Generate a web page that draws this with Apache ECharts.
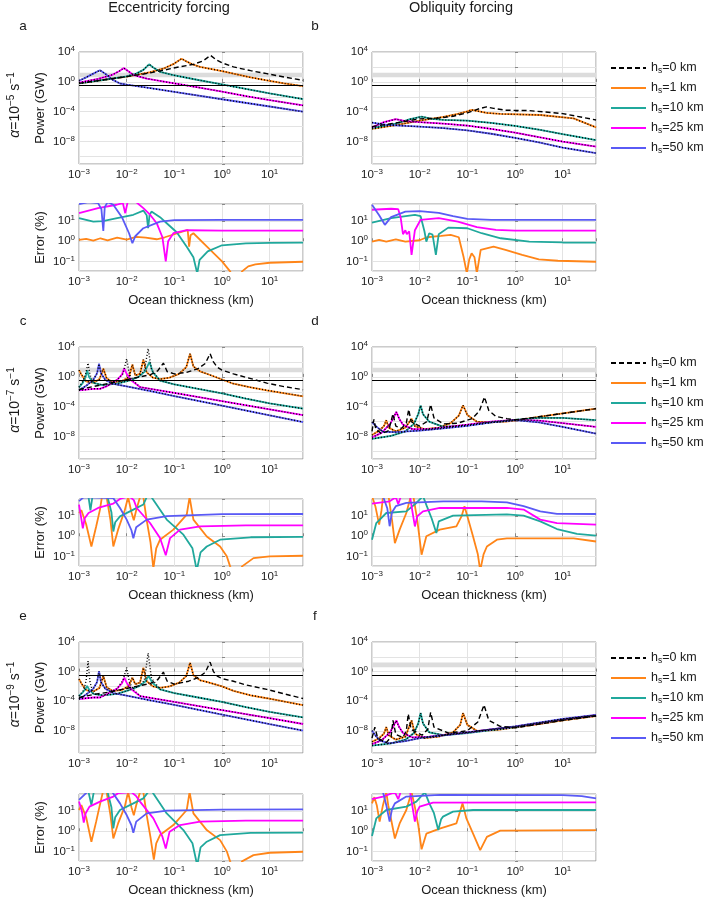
<!DOCTYPE html>
<html>
<head>
<meta charset="utf-8">
<script src="https://cdn.jsdelivr.net/npm/echarts@6/dist/echarts.min.js"></script>
<style>
html,body{margin:0;padding:0;background:#fff}
#chart{width:708px;height:901px}
</style>
</head>
<body>
<div id="chart"></div>
<script>
// every curve is [log10(ocean thickness / km), log10(value)]
// power in GW, error in %

// ---- a: eccentricity, alpha = 1e-5 ----
const a_h0  = [[-3,-0.2],[-2.5,0.25],[-2,0.7],[-1.5,1.2],[-1.2,1.6],[-0.9,2.0],[-0.6,2.35],[-0.4,2.8],[-0.24,3.55],[-0.12,2.95],[0,2.55],[0.24,2.0],[0.6,1.5],[0.94,1.1],[1.3,0.65],[1.7,0.2]];
const a_h1  = [[-3,-0.2],[-2.5,0.25],[-2,0.7],[-1.5,1.3],[-1.2,1.85],[-1.0,2.45],[-0.85,3.1],[-0.75,2.75],[-0.6,2.3],[-0.46,2.0],[0,1.45],[0.24,1.1],[0.6,0.6],[0.94,0.2],[1.3,-0.2],[1.7,-0.58]];
const a_h10 = [[-3,-0.2],[-2.5,0.25],[-2,0.75],[-1.8,1.1],[-1.65,1.6],[-1.53,2.35],[-1.45,1.95],[-1.3,1.35],[-1.02,0.9],[-0.5,0.25],[0,-0.35],[0.5,-0.95],[1,-1.55],[1.7,-2.3]];
const a_h25 = [[-3,-0.1],[-2.6,0.4],[-2.3,0.95],[-2.15,1.45],[-2.06,1.85],[-1.98,1.5],[-1.85,0.9],[-1.58,0.44],[-1,-0.2],[-0.5,-0.75],[0,-1.3],[0.5,-1.9],[1,-2.45],[1.7,-3.16]];
const a_h50 = [[-3,0.15],[-2.85,0.6],[-2.7,1.1],[-2.56,1.55],[-2.45,1.1],[-2.3,0.3],[-2.14,-0.22],[-2,-0.36],[-1.5,-0.85],[-1,-1.34],[0,-2.33],[1,-3.3],[1.7,-4.0]];
const err_a_h1  = [[-3,0.07],[-2.85,0.12],[-2.7,0.03],[-2.55,0.15],[-2.4,0.05],[-2.2,0.18],[-2,0.08],[-1.8,0.22],[-1.6,0.18],[-1.37,0.1],[-1.2,0.2],[-1.0,0.35],[-0.8,0.5],[-0.72,0.57],[-0.69,-0.27],[-0.66,0.3],[-0.6,0.4],[-0.3,-0.3],[0,-1.0],[0.17,-1.5],[0.25,-1.9],[0.35,-1.9],[0.42,-1.5],[0.55,-1.25],[0.7,-1.15],[1,-1.07],[1.7,-1.02]];
const err_a_h10 = [[-3,1.15],[-2.7,0.98],[-2.5,1.0],[-2.2,1.15],[-1.86,1.32],[-1.65,1.53],[-1.58,1.3],[-1.55,0.65],[-1.52,1.3],[-1.48,1.48],[-1.3,1.2],[-1.16,0.9],[-0.95,0.45],[-0.74,-0.27],[-0.6,-0.8],[-0.52,-1.6],[-0.47,-0.93],[-0.3,-0.5],[0,-0.2],[0.5,-0.1],[1,-0.08],[1.7,-0.07]];
const err_a_h25 = [[-3,1.4],[-2.6,1.65],[-2.21,1.82],[-2.08,1.9],[-2.03,1.4],[-1.98,1.95],[-1.8,1.95],[-1.65,1.65],[-1.5,1.3],[-1.37,0.9],[-1.25,0.2],[-1.18,-1.0],[-1.13,0.0],[-1.02,0.4],[-0.74,0.55],[0,0.53],[1.7,0.53]];
const err_a_h50 = [[-3,1.85],[-2.8,1.95],[-2.6,1.9],[-2.53,1.6],[-2.49,0.52],[-2.46,1.7],[-2.4,1.95],[-2.28,1.82],[-2.1,1.2],[-1.95,0.4],[-1.88,-0.1],[-1.82,0.25],[-1.65,0.65],[-1.3,0.98],[-1,1.05],[0,1.07],[1.7,1.07]];

// ---- b: obliquity, alpha = 1e-5 ----
const b_h0  = [[-3,-6.0],[-2.5,-5.5],[-2,-4.95],[-1.6,-4.85],[-1.3,-4.6],[-1,-4.15],[-0.75,-3.6],[-0.6,-3.35],[-0.45,-3.55],[-0.2,-3.8],[0.3,-3.85],[1,-4.25],[1.7,-5.1]];
const b_h1  = [[-3,-6.3],[-2.5,-5.8],[-2,-5.2],[-1.5,-4.7],[-1.2,-4.3],[-1,-3.95],[-0.91,-3.75],[-0.8,-3.9],[-0.6,-4.15],[-0.3,-4.3],[0.53,-4.44],[1.23,-4.9],[1.7,-6.1]];
const b_h10 = [[-3,-6.2],[-2.5,-5.6],[-2.2,-5.0],[-1.96,-4.65],[-1.75,-4.95],[-1.5,-5.1],[-1,-5.2],[-0.5,-5.5],[0,-5.9],[0.5,-6.4],[1,-7.0],[1.7,-7.8]];
const b_h25 = [[-3,-6.1],[-2.75,-5.4],[-2.5,-5.0],[-2.3,-5.25],[-2,-5.4],[-1.5,-5.6],[-1,-5.85],[-0.5,-6.3],[0,-6.8],[0.5,-7.4],[1,-8.0],[1.7,-8.67]];
const b_h50 = [[-3,-5.45],[-2.7,-5.75],[-2.3,-5.9],[-2,-6.0],[-1.5,-6.2],[-1,-6.5],[-0.5,-6.95],[0,-7.5],[0.5,-8.1],[1,-8.8],[1.7,-9.55]];
const err_b_h1  = [[-3,-0.02],[-2.85,0.07],[-2.7,-0.02],[-2.5,0.1],[-2.3,-0.02],[-2,0.05],[-1.85,0.2],[-1.55,0.27],[-1.35,0.32],[-1.18,0.2],[-1.08,-0.77],[-1.01,-1.6],[-0.96,-0.9],[-0.91,-0.6],[-0.85,-0.8],[-0.8,-1.6],[-0.72,-0.43],[-0.45,-0.27],[-0.2,-0.43],[0.15,-0.68],[0.5,-0.9],[0.9,-0.97],[1.7,-1.02]];
const err_b_h10 = [[-3,0.93],[-2.6,1.15],[-2.1,1.32],[-1.98,1.25],[-1.9,0.5],[-1.86,-0.02],[-1.8,0.4],[-1.73,0.33],[-1.66,-0.68],[-1.6,0.35],[-1.4,0.68],[-1,0.65],[-0.7,0.4],[-0.3,0.15],[0.3,-0.02],[1,-0.06],[1.7,-0.07]];
const err_b_h25 = [[-3,1.57],[-2.6,1.62],[-2.45,1.6],[-2.4,1.2],[-2.35,0.35],[-2.3,0.55],[-2.27,0.35],[-2.22,0.5],[-2.17,-0.68],[-2.1,0.55],[-1.98,1.07],[-1.6,1.15],[-1.2,0.98],[-0.8,0.7],[-0.4,0.57],[0,0.53],[1.7,0.53]];
const err_b_h50 = [[-3,1.82],[-2.85,1.3],[-2.73,0.82],[-2.6,1.2],[-2.3,1.48],[-2,1.5],[-1.6,1.42],[-1.3,1.25],[-1,1.12],[-0.5,1.07],[1.7,1.07]];

// ---- c: eccentricity, alpha = 1e-7 ----
const c_h0  = [[-3,-1.7],[-2.7,-1.3],[-2.4,-0.9],[-2.1,-0.5],[-1.8,-0.1],[-1.5,0.3],[-1.35,0.8],[-1.23,1.85],[-1.15,0.7],[-1.0,0.4],[-0.75,0.6],[-0.5,1.1],[-0.35,1.8],[-0.25,3.1],[-0.18,2.0],[-0.1,1.3],[0,0.9],[0.24,0.4],[0.5,-0.05],[0.94,-0.83],[1.3,-1.3],[1.7,-1.72]];
const c_h1  = [[-3,0.9],[-2.95,0.3],[-2.85,-0.6],[-2.7,-0.8],[-2.57,-0.3],[-2.49,1.1],[-2.42,-0.2],[-2.3,-0.7],[-2.1,-0.6],[-1.95,0.0],[-1.88,1.65],[-1.82,0.2],[-1.72,0.4],[-1.65,2.3],[-1.58,0.6],[-1.45,-0.1],[-1.3,-0.3],[-1.1,-0.1],[-0.9,0.4],[-0.75,1.3],[-0.67,3.1],[-0.6,1.4],[-0.45,0.7],[-0.32,0.42],[0,-0.35],[0.24,-0.92],[0.6,-1.4],[0.94,-1.8],[1.7,-2.6]];
const c_h10 = [[-3,-1.4],[-2.92,-0.8],[-2.86,0.0],[-2.83,0.87],[-2.79,0.0],[-2.7,-0.8],[-2.5,-1.1],[-2.2,-0.9],[-1.95,-0.5],[-1.75,0.0],[-1.62,0.7],[-1.52,2.0],[-1.45,0.6],[-1.3,-0.5],[-1,-1.0],[-0.5,-1.6],[0,-2.2],[0.5,-2.9],[1,-3.55],[1.7,-4.26]];
const c_h10_apx = [[-3,-1.4],[-2.92,-0.6],[-2.86,0.4],[-2.81,1.85],[-2.77,0.3],[-2.7,-0.8],[-2.5,-1.1],[-2.2,-0.9],[-1.95,-0.5],[-1.75,0.0],[-1.63,0.8],[-1.55,3.77],[-1.48,1.0],[-1.3,-0.5],[-1,-1.0],[-0.5,-1.6],[0,-2.2],[0.5,-2.9],[1,-3.55],[1.7,-4.26]];
const c_h25 = [[-3,-1.8],[-2.7,-1.6],[-2.56,-1.6],[-2.4,-1.2],[-2.2,-0.4],[-2.1,0.3],[-2.05,1.15],[-2.0,0.4],[-1.9,-0.5],[-1.72,-1.36],[-1,-2.15],[0,-3.25],[1,-4.35],[1.7,-5.12]];
const c_h25_apx = [[-3,-1.8],[-2.7,-1.6],[-2.56,-1.6],[-2.4,-1.2],[-2.2,-0.4],[-2.08,0.4],[-2.0,2.4],[-1.94,0.3],[-1.85,-0.6],[-1.72,-1.36],[-1,-2.15],[0,-3.25],[1,-4.35],[1.7,-5.12]];
const c_h50 = [[-3,-1.8],[-2.85,-1.2],[-2.7,-0.4],[-2.62,0.5],[-2.58,1.75],[-2.54,0.5],[-2.45,-0.4],[-2.28,-0.95],[-2,-1.28],[-1.5,-1.9],[-1,-2.57],[0,-3.86],[1,-5.15],[1.7,-6.05]];
const err_c_h1  = [[-3,1.16],[-2.95,1.3],[-2.85,0.6],[-2.74,-0.51],[-2.64,0.49],[-2.56,1.33],[-2.52,1.95],[-2.42,1.95],[-2.34,0.8],[-2.28,-0.51],[-2.18,0.33],[-2.04,1.3],[-1.97,1.95],[-1.9,1.2],[-1.85,0.8],[-1.8,1.3],[-1.72,1.95],[-1.65,1.95],[-1.58,0.8],[-1.5,-0.3],[-1.44,-1.6],[-1.38,-0.6],[-1.3,-0.17],[-1.02,0.33],[-0.74,1.08],[-0.68,1.95],[-0.6,0.83],[-0.32,-0.01],[-0.04,-0.51],[0.1,-1.0],[0.17,-1.5],[0.25,-1.9],[0.35,-1.9],[0.42,-1.5],[0.66,-1.09],[1,-1.0],[1.7,-0.97]];
const err_c_h10 = [[-3,2.0],[-2.8,1.95],[-2.76,1.29],[-2.72,1.95],[-2.4,1.95],[-2.32,1.2],[-2.28,0.24],[-2.24,0.7],[-2.14,0.99],[-1.86,1.33],[-1.65,1.58],[-1.58,1.95],[-1.48,1.95],[-1.16,0.83],[-0.81,0.08],[-0.62,-0.6],[-0.53,-1.7],[-0.45,-0.8],[-0.32,-0.51],[-0.04,-0.17],[0.6,-0.05],[1.7,-0.03]];
const err_c_h25 = [[-3,1.58],[-2.96,1.0],[-2.92,0.4],[-2.88,0.9],[-2.8,1.16],[-2.6,1.41],[-2.28,1.63],[-2.14,1.86],[-1.95,2.0],[-1.85,1.8],[-1.79,1.41],[-1.51,0.66],[-1.3,-0.09],[-1.18,-0.95],[-1.09,-0.09],[-0.88,0.33],[-0.46,0.49],[0.5,0.54],[1.7,0.54]];
const err_c_h50 = [[-3,1.75],[-2.9,1.95],[-2.28,1.9],[-2.14,1.41],[-2.0,0.83],[-1.9,0.3],[-1.86,-0.1],[-1.8,0.45],[-1.58,0.83],[-1.16,1.0],[0,1.1],[1.7,1.11]];

// ---- d: obliquity, alpha = 1e-7 ----
const d_h0  = [[-3,-7.3],[-2.96,-5.7],[-2.92,-7.0],[-2.8,-7.6],[-2.65,-7.2],[-2.56,-4.95],[-2.5,-6.6],[-2.38,-6.9],[-2.28,-6.2],[-2.23,-4.35],[-2.18,-6.0],[-2.0,-6.6],[-1.85,-6.0],[-1.77,-3.7],[-1.7,-5.5],[-1.5,-6.3],[-1.2,-6.2],[-0.9,-5.6],[-0.75,-4.6],[-0.64,-2.7],[-0.55,-4.5],[-0.4,-5.3],[-0.17,-5.6],[0,-5.75],[0.5,-5.35],[1,-4.9],[1.7,-4.26]];
const d_h1  = [[-3,-7.8],[-2.85,-7.2],[-2.75,-6.6],[-2.7,-5.8],[-2.65,-6.8],[-2.5,-7.3],[-2.3,-6.8],[-2.17,-5.6],[-2.1,-6.6],[-1.9,-7.0],[-1.6,-6.8],[-1.35,-6.2],[-1.18,-5.2],[-1.09,-3.8],[-1.0,-5.1],[-0.8,-6.0],[-0.5,-6.1],[-0.2,-6.0],[0,-5.85],[0.5,-5.35],[1,-4.9],[1.7,-4.26]];
const d_h10 = [[-3,-8.3],[-2.6,-7.9],[-2.3,-7.3],[-2.12,-6.3],[-2.03,-5.0],[-1.98,-3.82],[-1.93,-5.0],[-1.8,-6.0],[-1.5,-6.7],[-1.0,-6.5],[-0.5,-6.1],[0,-5.75],[0.5,-5.5],[1,-5.5],[1.7,-5.8]];
const d_h25 = [[-3,-8.1],[-2.8,-7.5],[-2.62,-6.3],[-2.55,-5.5],[-2.49,-4.7],[-2.43,-5.6],[-2.35,-6.4],[-2.15,-7.0],[-1.8,-7.0],[-1.4,-6.7],[-1,-6.4],[-0.5,-6.0],[0,-5.75],[0.5,-5.85],[1,-6.2],[1.7,-6.7]];
const d_h50 = [[-3,-6.05],[-2.9,-6.7],[-2.77,-7.35],[-2.5,-7.4],[-2.0,-7.2],[-1.5,-6.9],[-1,-6.55],[-0.5,-6.1],[0,-5.8],[0.5,-6.1],[1,-6.7],[1.7,-7.6]];
const err_d_h1  = [[-3,2.0],[-2.93,1.5],[-2.85,0.58],[-2.8,1.3],[-2.77,1.95],[-2.65,1.95],[-2.58,0.8],[-2.52,-0.34],[-2.42,0.33],[-2.28,1.16],[-2.19,1.95],[-2.13,1.95],[-2.05,0.8],[-1.96,-0.92],[-1.86,0.0],[-1.58,0.33],[-1.23,0.49],[-1.12,1.0],[-1.06,1.5],[-0.98,0.83],[-0.88,-0.01],[-0.78,-0.9],[-0.73,-1.7],[-0.66,-0.9],[-0.59,-0.51],[-0.38,-0.17],[-0.17,-0.1],[1.23,-0.1],[1.7,-0.26]];
const err_d_h10 = [[-3,-0.17],[-2.91,0.66],[-2.7,1.16],[-2.28,1.24],[-2.07,1.66],[-1.93,2.0],[-1.85,1.5],[-1.75,0.9],[-1.65,0.16],[-1.6,0.74],[-1.3,1.03],[-0.17,1.09],[0.18,1.03],[0.53,0.74],[0.88,0.36],[1.3,0.12],[1.7,0.03]];
const err_d_h25 = [[-3,1.63],[-2.63,1.74],[-2.5,1.95],[-2.45,1.6],[-2.4,1.95],[-2.2,1.95],[-2.15,1.2],[-2.1,0.49],[-2.05,1.0],[-1.93,1.24],[-1.58,1.41],[-0.17,1.41],[0.18,1.33],[0.53,0.83],[0.88,0.66],[1.7,0.58]];
const err_d_h50 = [[-3,2.0],[-2.77,2.0],[-2.68,1.4],[-2.63,0.5],[-2.58,1.2],[-2.5,1.5],[-2.28,1.66],[-1.5,1.74],[-0.7,1.74],[-0.17,1.69],[0.18,1.5],[0.53,1.24],[0.88,1.12],[1.7,1.11]];

// ---- e: eccentricity, alpha = 1e-9 ----
const e_h0  = [[-3,-3.5],[-2.7,-3.1],[-2.4,-2.8],[-2.1,-2.4],[-1.8,-2.0],[-1.5,-1.6],[-1.35,-1.1],[-1.23,-0.07],[-1.15,-1.3],[-1.0,-1.7],[-0.7,-1.3],[-0.5,-0.8],[-0.35,-0.1],[-0.25,1.28],[-0.18,0.0],[-0.1,-0.6],[0,-0.95],[0.24,-1.3],[0.5,-1.8],[0.94,-2.4],[1.3,-3.0],[1.7,-3.64]];
const e_h1  = [[-3,-1.0],[-2.95,-1.6],[-2.85,-2.5],[-2.7,-2.7],[-2.57,-2.2],[-2.49,-0.6],[-2.42,-2.1],[-2.3,-2.6],[-2.1,-2.5],[-1.95,-1.9],[-1.88,-0.8],[-1.82,-1.7],[-1.72,-1.5],[-1.65,0.52],[-1.58,-1.3],[-1.45,-2.0],[-1.3,-2.2],[-1.1,-2.0],[-0.9,-1.5],[-0.75,-0.6],[-0.67,1.19],[-0.6,-0.5],[-0.45,-1.2],[-0.32,-1.4],[0,-2.0],[0.24,-2.6],[0.6,-3.2],[0.94,-3.6],[1.7,-4.53]];
const e_h10 = [[-3,-3.3],[-2.92,-2.8],[-2.86,-2.3],[-2.83,-1.95],[-2.79,-2.4],[-2.7,-3.0],[-2.5,-3.2],[-2.2,-3.0],[-1.95,-2.5],[-1.75,-2.0],[-1.62,-1.4],[-1.54,-0.6],[-1.46,-1.5],[-1.3,-2.4],[-1,-2.9],[-0.5,-3.5],[0,-4.1],[0.5,-4.8],[1,-5.45],[1.7,-6.2]];
const e_h10_apx = [[-3,-3.3],[-2.9,-2.5],[-2.85,-1.2],[-2.81,1.41],[-2.77,-1.4],[-2.7,-3.0],[-2.5,-3.2],[-2.2,-3.0],[-1.95,-2.5],[-1.75,-2.0],[-1.63,-1.2],[-1.55,2.5],[-1.48,-0.9],[-1.3,-2.4],[-1,-2.9],[-0.5,-3.5],[0,-4.1],[0.5,-4.8],[1,-5.45],[1.7,-6.2]];
const e_h25 = [[-3,-3.7],[-2.7,-3.5],[-2.56,-3.5],[-2.4,-3.0],[-2.2,-2.3],[-2.1,-1.6],[-2.05,-0.83],[-2.0,-1.5],[-1.9,-2.4],[-1.72,-3.3],[-1,-4.1],[0,-5.2],[1,-6.3],[1.7,-7.08]];
const e_h25_apx = [[-3,-3.7],[-2.7,-3.5],[-2.56,-3.5],[-2.4,-3.0],[-2.2,-2.3],[-2.08,-1.2],[-2.0,0.52],[-1.94,-1.5],[-1.85,-2.5],[-1.72,-3.3],[-1,-4.1],[0,-5.2],[1,-6.3],[1.7,-7.08]];
const e_h50 = [[-3,-3.7],[-2.85,-3.1],[-2.7,-2.3],[-2.62,-1.4],[-2.58,0.07],[-2.54,-1.4],[-2.45,-2.3],[-2.28,-2.9],[-2,-3.25],[-1.5,-3.9],[-1,-4.5],[0,-5.8],[1,-7.1],[1.7,-7.97]];
const err_e_h1  = [[-3,1.06],[-2.95,1.3],[-2.85,0.7],[-2.74,-0.52],[-2.64,0.48],[-2.57,1.23],[-2.5,1.95],[-2.42,1.95],[-2.34,0.8],[-2.28,-0.36],[-2.18,0.39],[-2.04,1.23],[-1.97,1.95],[-1.9,1.2],[-1.85,0.8],[-1.8,1.3],[-1.72,1.95],[-1.65,1.95],[-1.58,0.8],[-1.5,-0.3],[-1.43,-1.41],[-1.38,-0.6],[-1.3,-0.19],[-1.02,0.31],[-0.74,1.06],[-0.68,1.95],[-0.6,0.89],[-0.32,0.06],[-0.04,-0.44],[0.1,-1.0],[0.17,-1.5],[0.25,-1.9],[0.35,-1.9],[0.42,-1.5],[0.66,-1.19],[1,-1.07],[1.7,-1.02]];
const err_e_h10 = [[-3,2.0],[-2.8,1.95],[-2.74,1.31],[-2.69,1.95],[-2.4,1.95],[-2.32,1.2],[-2.28,0.14],[-2.24,0.7],[-2.14,1.06],[-1.86,1.39],[-1.65,1.64],[-1.55,1.95],[-1.46,1.95],[-1.16,0.89],[-0.81,0.06],[-0.62,-0.6],[-0.52,-1.7],[-0.45,-0.8],[-0.32,-0.52],[-0.04,-0.19],[0.6,-0.08],[1.7,-0.07]];
const err_e_h25 = [[-3,1.48],[-2.94,1.0],[-2.9,0.43],[-2.86,0.9],[-2.78,1.23],[-2.56,1.48],[-2.28,1.73],[-2.18,1.9],[-1.9,1.95],[-1.8,1.75],[-1.72,1.48],[-1.44,0.64],[-1.25,-0.27],[-1.18,-0.86],[-1.1,-0.02],[-0.88,0.31],[-0.46,0.48],[0.5,0.53],[1.7,0.53]];
const err_e_h50 = [[-3,1.56],[-2.83,1.95],[-2.3,1.95],[-2.14,1.39],[-2.0,0.81],[-1.9,0.3],[-1.86,-0.07],[-1.8,0.48],[-1.58,0.89],[-1.16,1.03],[0,1.08],[1.7,1.09]];

// ---- f: obliquity, alpha = 1e-9 ----
const f_h0  = [[-3,-9.0],[-2.94,-7.5],[-2.88,-9.0],[-2.7,-9.6],[-2.6,-8.8],[-2.56,-6.6],[-2.5,-8.5],[-2.35,-8.9],[-2.28,-8.0],[-2.24,-5.7],[-2.18,-7.8],[-1.95,-8.6],[-1.83,-7.8],[-1.77,-5.5],[-1.7,-7.5],[-1.4,-8.3],[-1.0,-8.0],[-0.78,-6.8],[-0.65,-4.5],[-0.55,-6.6],[-0.31,-7.4],[0,-7.6],[0.5,-7.1],[1,-6.6],[1.7,-6.0]];
const f_h1  = [[-3,-9.5],[-2.85,-9.0],[-2.75,-8.4],[-2.7,-7.5],[-2.65,-8.6],[-2.5,-9.2],[-2.3,-8.8],[-2.17,-6.6],[-2.1,-8.4],[-1.9,-9.0],[-1.6,-8.8],[-1.3,-8.2],[-1.15,-7.2],[-1.09,-5.6],[-1.0,-7.2],[-0.8,-8.0],[-0.4,-7.9],[0,-7.55],[0.5,-7.1],[1,-6.6],[1.7,-6.0]];
const f_h10 = [[-3,-10.0],[-2.6,-9.7],[-2.3,-9.2],[-2.12,-8.3],[-2.03,-7.0],[-1.98,-5.6],[-1.93,-7.0],[-1.8,-8.2],[-1.5,-8.6],[-1,-8.3],[-0.5,-7.9],[0,-7.5],[0.5,-7.0],[1,-6.5],[1.7,-5.95]];
const f_h25 = [[-3,-9.8],[-2.8,-9.3],[-2.62,-8.2],[-2.55,-7.4],[-2.49,-6.6],[-2.43,-7.5],[-2.35,-8.3],[-2.15,-8.9],[-1.8,-8.8],[-1.4,-8.5],[-1,-8.2],[-0.5,-7.8],[0,-7.45],[0.5,-6.95],[1,-6.45],[1.7,-5.9]];
const f_h50 = [[-3,-7.97],[-2.92,-8.7],[-2.84,-9.3],[-2.65,-9.7],[-2.3,-9.4],[-2,-9.0],[-1.5,-8.6],[-1,-8.2],[-0.5,-7.8],[0,-7.4],[0.5,-6.9],[1,-6.4],[1.7,-5.86]];
const err_f_h1  = [[-3,1.39],[-2.95,1.7],[-2.9,1.3],[-2.84,0.48],[-2.77,1.3],[-2.7,1.95],[-2.66,1.3],[-2.6,0.6],[-2.52,-0.36],[-2.42,0.39],[-2.28,1.06],[-2.17,1.95],[-2.1,1.2],[-2.03,0.3],[-1.96,-0.9],[-1.86,-0.12],[-1.58,0.13],[-1.23,0.39],[-1.1,1.39],[-1.02,0.64],[-0.88,-0.12],[-0.73,-0.94],[-0.59,-0.28],[-0.31,0.03],[1.7,0.06]];
const err_f_h10 = [[-3,-0.24],[-2.91,0.64],[-2.7,1.06],[-2.28,1.23],[-2.07,1.48],[-1.89,1.95],[-1.8,1.4],[-1.7,0.9],[-1.61,0.06],[-1.55,0.6],[-1.51,0.73],[-1.3,0.98],[-0.88,1.06],[1.7,1.06]];
const err_f_h25 = [[-3,1.6],[-2.77,1.73],[-2.52,1.95],[-2.45,1.6],[-2.4,1.95],[-2.2,1.95],[-2.15,1.2],[-2.1,0.48],[-2.05,1.0],[-2.0,1.23],[-1.72,1.43],[1.7,1.44]];
const err_f_h50 = [[-3,2.0],[-2.77,1.95],[-2.7,1.3],[-2.63,0.48],[-2.58,1.1],[-2.52,1.39],[-2.28,1.73],[-1.58,1.81],[1.0,1.8],[1.4,1.75],[1.7,1.64]];

// labels and reference values
const seriesNames = ['h0', 'h1', 'h10', 'h25', 'h50'];
const shellKm = { h0: '0', h1: '1', h10: '10', h25: '25', h50: '50' };
const alphaExp = ['5', '7', '9'];
const colTitles = ['Eccentricity forcing', 'Obliquity forcing'];
const panelLetters = ['a', 'b', 'c', 'd', 'e', 'f'];
const refPowerGW = 0.3;        // black horizontal line
const bandGW = [4, 17];        // grey band
const xRangeKm = [0.001, 50];
const powerRangeGW = [1e-11, 1e4];
const errRangePct = [0.033, 72];

const powerSets = [
  { curves: [a_h0, a_h1, a_h10, a_h25, a_h50], approx: [a_h1, a_h10, a_h25, a_h50] },
  { curves: [b_h0, b_h1, b_h10, b_h25, b_h50], approx: [b_h1, b_h10, b_h25, b_h50] },
  { curves: [c_h0, c_h1, c_h10, c_h25, c_h50], approx: [c_h1, c_h10_apx, c_h25_apx, c_h50] },
  { curves: [d_h0, d_h1, d_h10, d_h25, d_h50], approx: [d_h1, d_h10, d_h25, d_h50] },
  { curves: [e_h0, e_h1, e_h10, e_h25, e_h50], approx: [e_h1, e_h10_apx, e_h25_apx, e_h50] },
  { curves: [f_h0, f_h1, f_h10, f_h25, f_h50], approx: [f_h1, f_h10, f_h25, f_h50] }
];
const errSets = [
  [err_a_h1, err_a_h10, err_a_h25, err_a_h50],
  [err_b_h1, err_b_h10, err_b_h25, err_b_h50],
  [err_c_h1, err_c_h10, err_c_h25, err_c_h50],
  [err_d_h1, err_d_h10, err_d_h25, err_d_h50],
  [err_e_h1, err_e_h10, err_e_h25, err_e_h50],
  [err_f_h1, err_f_h10, err_f_h25, err_f_h50]
];

// ---- layout / style ----
const FONT = '"Liberation Sans", Arial, sans-serif';
const TXT = '#1a1a1a';
const colors = { h0: '#000000', h1: '#ff8518', h10: '#20a89c', h25: '#ff00ff', h50: '#5a5af5' };
const colLeft = [79, 372];
const plotW = 224;
const powerTop = [52, 347, 642];
const powerH = [112, 112, 111];
const errTop = [204, 499, 794];
const errH = 67;

const supRich = { s: { fontSize: 8, fontFamily: FONT, color: TXT, padding: [0, 0, 6, 0] } };
const isInt = v => Math.abs(v - Math.round(v)) < 1e-6;
const pow10 = v => {
  const n = Math.round(v);
  return '10{s|' + (n < 0 ? '\u2212' + (-n) : String(n)) + '}';
};

const grids = [], xAxes = [], yAxes = [], series = [];

function addAxes(gi, kind, col) {
  const err = kind === 'err';
  xAxes.push({
    type: 'value', gridIndex: gi,
    min: Math.log10(xRangeKm[0]), max: Math.log10(xRangeKm[1]), interval: 1,
    axisLine: { show: false },
    axisTick: { show: true, inside: true, length: 3, lineStyle: { color: '#888' } },
    splitLine: { show: true, lineStyle: { color: '#e3e3e3', width: 1 } },
    axisLabel: { formatter: v => isInt(v) ? pow10(v) : '', fontSize: 11.5, fontFamily: FONT, color: TXT, margin: 4, rich: supRich },
    name: err ? 'Ocean thickness (km)' : '',
    nameLocation: 'middle', nameGap: 23,
    nameTextStyle: { fontSize: 13, fontFamily: FONT, color: TXT }
  });
  const y = {
    type: 'value', gridIndex: gi,
    axisLine: { show: false },
    axisTick: { show: true, inside: true, length: 3, lineStyle: { color: '#888' } },
    splitLine: { show: true, lineStyle: { color: '#e3e3e3', width: 1 } },
    nameLocation: 'middle', nameGap: 32,
    nameTextStyle: { fontSize: 13, fontFamily: FONT, color: TXT }
  };
  if (err) {
    Object.assign(y, {
      min: Math.log10(errRangePct[0]), max: Math.log10(errRangePct[1]),
      splitNumber: 3, minInterval: 1, maxInterval: 1,
      name: col === 0 ? 'Error (%)' : '',
      axisLabel: { formatter: v => isInt(v) ? pow10(v) : '', fontSize: 11.5, fontFamily: FONT, color: TXT, margin: 4, rich: supRich }
    });
  } else {
    Object.assign(y, {
      min: Math.log10(powerRangeGW[0]), max: Math.log10(powerRangeGW[1]),
      splitNumber: 7, minInterval: 2, maxInterval: 2,
      name: col === 0 ? 'Power (GW)' : '',
      axisLabel: { formatter: v => (isInt(v) && Math.round(v) % 4 === 0) ? pow10(v) : '', fontSize: 11.5, fontFamily: FONT, color: TXT, margin: 4, rich: supRich }
    });
  }
  yAxes.push(y);
}

function line(name, data, gi, lineStyle, z) {
  return {
    type: 'line', name, data, xAxisIndex: gi, yAxisIndex: gi,
    symbol: 'none', showSymbol: false, silent: true, z,
    lineStyle, emphasis: { disabled: true }
  };
}

const dotted = { color: '#000', width: 1.4, type: [1, 2] };

for (let r = 0; r < 3; r++) {
  for (let c = 0; c < 2; c++) {
    const p = r * 2 + c;
    // power panel
    let gi = grids.length;
    grids.push({ left: colLeft[c], top: powerTop[r], width: plotW, height: powerH[r], show: true, borderColor: '#999', borderWidth: 1, backgroundColor: '#fff', outerBoundsMode: 'none' });
    addAxes(gi, 'power', c);
    series.push({
      type: 'line', name: 'ref', data: [], xAxisIndex: gi, yAxisIndex: gi, silent: true, z: 1,
      markArea: { silent: true, itemStyle: { color: '#dcdcdc' }, data: [[{ yAxis: Math.log10(bandGW[0]) }, { yAxis: Math.log10(bandGW[1]) }]] },
      markLine: { silent: true, symbol: 'none', label: { show: false }, lineStyle: { color: '#000', width: 1.2, type: 'solid' }, data: [{ yAxis: Math.log10(refPowerGW) }] }
    });
    const set = powerSets[p];
    for (let k = 1; k < 5; k++) {
      const nm = seriesNames[k];
      series.push(line(nm, set.curves[k], gi, { color: colors[nm], width: 1.8 }, 2));
    }
    for (let k = 0; k < 4; k++) {
      series.push(line('approx', set.approx[k], gi, dotted, 3));
    }
    series.push(line('h0', set.curves[0], gi, { color: '#000', width: 1.4, type: [5, 3] }, 4));

    // error panel
    gi = grids.length;
    grids.push({ left: colLeft[c], top: errTop[r], width: plotW, height: errH, show: true, borderColor: '#999', borderWidth: 1, backgroundColor: '#fff', outerBoundsMode: 'none' });
    addAxes(gi, 'err', c);
    for (let k = 0; k < 4; k++) {
      const nm = seriesNames[k + 1];
      series.push(line(nm, errSets[p][k], gi, { color: colors[nm], width: 1.8 }, 2));
    }
  }
}

series.forEach(s => { if (colors[s.name]) s.itemStyle = { color: colors[s.name] }; });

const legends = powerTop.map(t => ({
  data: seriesNames, orient: 'vertical', left: 610, top: t + 9, padding: 0,
  itemWidth: 35, itemHeight: 14, itemGap: 5.5, selectedMode: false,
  itemStyle: { opacity: 0, borderWidth: 0 },
  formatter: n => 'h{sub|s}=' + shellKm[n] + ' km',
  textStyle: { fontSize: 12.5, fontFamily: FONT, color: TXT, lineHeight: 14,
    rich: { sub: { fontSize: 8.5, fontFamily: FONT, color: TXT, padding: [6, 0, 0, 0] } } }
}));

function gtext(x, y, text, size, rot, rich) {
  return {
    type: 'text', x, y, rotation: rot || 0, silent: true,
    style: { text, x: 0, y: 0, fill: TXT, fontSize: size, fontFamily: FONT,
      align: 'center', verticalAlign: 'middle', textAlign: 'center', textVerticalAlign: 'middle', rich: rich || {} }
  };
}

const graphics = [
  gtext(169, 8, colTitles[0], 14.5),
  gtext(461, 8, colTitles[1], 14.5)
];
panelLetters.forEach((l, i) => {
  graphics.push(gtext(i % 2 === 0 ? 23 : 315, 26 + 295 * Math.floor(i / 2), l, 13.5));
});
alphaExp.forEach((ex, r) => {
  graphics.push(gtext(15, powerTop[r] + powerH[r] / 2 - 3,
    '{i|\u03b1}=10{s|\u2212' + ex + '} s{s|\u22121}', 14, Math.PI / 2,
    { i: { fontStyle: 'italic', fontSize: 14, fontFamily: FONT, fill: TXT, color: TXT },
      s: { fontSize: 10, fontFamily: FONT, fill: TXT, color: TXT, padding: [0, 0, 7, 0] } }));
});

const chart = echarts.init(document.getElementById('chart'), null, { renderer: 'canvas' });
chart.setOption({
  animation: false,
  backgroundColor: '#fff',
  textStyle: { fontFamily: FONT },
  grid: grids,
  xAxis: xAxes,
  yAxis: yAxes,
  legend: legends,
  graphic: graphics,
  series
});
</script>
</body>
</html>
